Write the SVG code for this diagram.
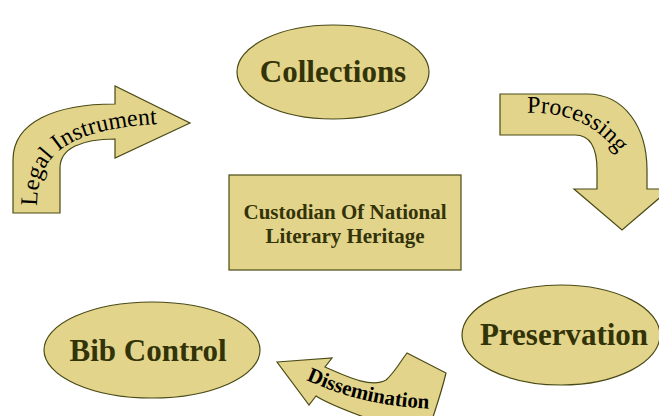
<svg xmlns="http://www.w3.org/2000/svg" width="659" height="416" viewBox="0 0 659 416">
<defs>
<style>
.shape{fill:#E3D48B;stroke:#4A4A16;stroke-width:1.2}
.lbl{font-family:"Liberation Serif","Times New Roman",serif;font-weight:bold;fill:#333308;text-anchor:middle}
.arr{font-family:"Liberation Serif","Times New Roman",serif;fill:#000}
</style>
<path id="pLegal" d="M37,206 C37,150 72,127 175,123"/>
<path id="pProc" d="M527,113 C567,112 600,124 624,162"/>
<path id="pDiss" d="M306,380 C340,395 380,408 440,409"/>
</defs>
<rect width="659" height="416" fill="#fff"/>
<g id="connectors">
<g id="legal-instrument">
<path class="shape" d="M13,213 L13,160 C13,122 55,104 115,104 L115,86 L190,123 L115,158 L115,139 C82,139 60,148 60,168 L60,213 Z"/>
<text class="arr" font-size="24"><textPath href="#pLegal">Legal Instrument</textPath></text>
</g>
<g id="processing">
<path class="shape" d="M500,94 L587,94 C625,94 647,128 647,170 L647,189 L670,189 L622,230 L574,189 L597,189 L597,170 C597,148 590,135 575,135 L500,135 Z"/>
<text class="arr" font-size="24"><textPath href="#pProc">Processing</textPath></text>
</g>
<g id="dissemination">
<path class="shape" d="M277,362 L332,358 L325,367 C350,378 372,388 386,380 C395,372 400,362 407,353 L446,373 C442,390 437,405 432,420 L372,420 C350,412 330,405 316,396 L309,405 Z"/>
<text class="arr" font-size="21" font-weight="bold"><textPath href="#pDiss">Dissemination</textPath></text>
</g>
</g>
<g id="collections">
<ellipse class="shape" cx="333" cy="72" rx="96" ry="47"/>
<text class="lbl" x="333" y="82" font-size="31">Collections</text>
</g>
<g id="custodian">
<rect class="shape" x="229" y="175" width="232" height="95"/>
<text class="lbl" x="345" y="219" font-size="21">Custodian Of National</text>
<text class="lbl" x="345" y="243" font-size="21">Literary Heritage</text>
</g>
<g id="preservation">
<ellipse class="shape" cx="561" cy="335" rx="99" ry="50"/>
<text class="lbl" x="564" y="345" font-size="31">Preservation</text>
</g>
<g id="bib-control">
<ellipse class="shape" cx="152" cy="350" rx="108" ry="48"/>
<text class="lbl" x="148" y="361" font-size="31">Bib Control</text>
</g>
</svg>
